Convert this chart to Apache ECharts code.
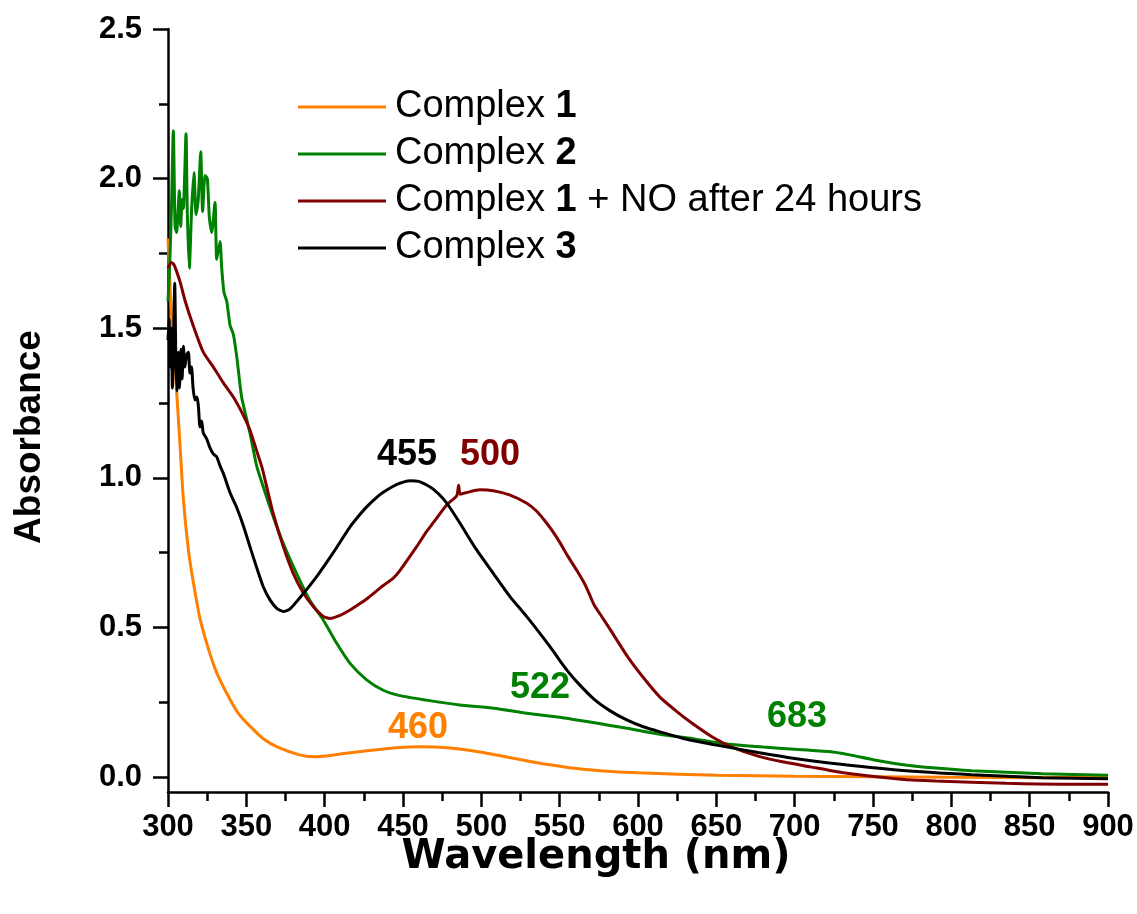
<!DOCTYPE html>
<html>
<head>
<meta charset="utf-8">
<script src="https://cdn.jsdelivr.net/npm/echarts@6/dist/echarts.min.js"></script>
<style>
  html, body { margin: 0; padding: 0; background: #fff; }
  #chart { width: 1137px; height: 914px; }
</style>
</head>
<body>
<div id="chart"></div>
<script>
// wavelength (nm), absorbance
const complex1 = [
  [300, 1.80], [300.7, 1.72], [301.5, 1.62], [302.5, 1.52], [303.5, 1.45], [305.5, 1.29],
  [307.2, 1.15], [309.8, 0.93], [313, 0.76], [316.2, 0.65], [320.4, 0.53], [325.7, 0.43],
  [331, 0.35], [338.5, 0.27], [345, 0.212], [352.3, 0.17], [360.8, 0.128], [370, 0.10],
  [384, 0.074], [393, 0.068], [405, 0.073], [427, 0.088], [448, 0.099], [461, 0.101],
  [480, 0.097], [501, 0.082], [533, 0.05], [555, 0.032], [576, 0.021], [600, 0.014],
  [651, 0.006], [700, 0.003], [750, 0.001], [800, -0.001], [850, -0.002], [900, -0.001]
];

const complex2 = [
  [300, 1.59], [301, 1.70], [302.2, 1.90], [303.4, 2.16], [304.5, 1.84], [305.5, 1.82],
  [306.3, 1.88], [307.2, 1.96], [308.1, 1.84], [309, 1.93], [309.8, 1.90], [311.5, 2.15],
  [312.3, 1.89], [313.6, 1.70], [315.1, 1.90], [316.6, 2.02], [317.9, 1.88], [319.3, 1.93],
  [320.9, 2.09], [322.1, 1.89], [323.6, 2.01], [325.1, 2.00], [326.4, 1.87], [327.9, 1.82],
  [330, 1.92], [331.1, 1.73], [333.2, 1.79], [334.3, 1.70], [335.7, 1.62], [337.5, 1.59],
  [339.6, 1.51], [341.7, 1.48], [344, 1.40], [347, 1.27], [352.3, 1.15], [356.6, 1.04],
  [360.8, 0.97], [367.2, 0.87], [373.6, 0.78], [382.1, 0.68], [390.6, 0.59], [399.1, 0.525],
  [407.7, 0.447], [416.2, 0.38], [426.8, 0.325], [437.4, 0.29], [448, 0.272], [465, 0.257],
  [486, 0.241], [508, 0.23], [529, 0.213], [550, 0.20], [571.5, 0.182], [593, 0.163],
  [614, 0.143], [635, 0.128], [654, 0.112], [680, 0.10], [700, 0.093], [722, 0.085],
  [735, 0.074], [750, 0.058], [767, 0.043], [790, 0.03], [813, 0.021], [858, 0.011], [900, 0.006]
];

const complex1NO = [
  [300, 1.70], [302, 1.72], [303.5, 1.715], [305.5, 1.69], [308, 1.65], [311, 1.59],
  [316, 1.51], [322.5, 1.42], [329, 1.37], [335, 1.32], [341.7, 1.27], [348, 1.21],
  [352.3, 1.16], [356.6, 1.09], [360, 1.035], [363, 0.97], [367.2, 0.88],
  [373.6, 0.77], [380, 0.68], [386.4, 0.615], [392.7, 0.57], [399.1, 0.537], [403.4, 0.53],
  [409.8, 0.54], [416.2, 0.558], [422.6, 0.58], [426.8, 0.595], [437.4, 0.64], [443.8, 0.665],
  [448, 0.69], [458.7, 0.77], [465, 0.82], [469.3, 0.85], [478, 0.91], [484.3, 0.94],
  [485.5, 0.975], [486.5, 0.945], [490, 0.95], [499, 0.96], [507.6, 0.957], [518, 0.943],
  [529, 0.915], [535, 0.89], [540, 0.86], [545, 0.825], [550, 0.785], [555, 0.74],
  [561, 0.69], [566, 0.645], [569.5, 0.605], [572, 0.575], [577, 0.535], [582, 0.495],
  [593, 0.405], [603, 0.335], [614, 0.267], [625, 0.218], [635, 0.178], [648, 0.132],
  [660, 0.10], [676.6, 0.07], [693, 0.05], [710, 0.034], [727, 0.018], [745, 0.005],
  [770, -0.008], [790, -0.013], [835, -0.021], [870, -0.024], [900, -0.024]
];

const complex3 = [
  [300, 1.46], [300.7, 1.53], [301.4, 1.37], [302.1, 1.50], [302.8, 1.30], [303.5, 1.45],
  [304.3, 1.65], [305, 1.40], [305.7, 1.29], [306.5, 1.42], [307.3, 1.30], [308.2, 1.43],
  [309, 1.33], [309.8, 1.44], [310.8, 1.37], [311.8, 1.41], [313, 1.42], [314, 1.35],
  [315, 1.37], [316, 1.30], [317.2, 1.26], [318.5, 1.27], [319.4, 1.24], [320.4, 1.17],
  [321.5, 1.19], [322.5, 1.15], [324.7, 1.13], [326.8, 1.10], [328.9, 1.08], [331.1, 1.07],
  [333.2, 1.04], [335.3, 1.015], [339.6, 0.95], [343.9, 0.90], [348.1, 0.84], [352.3, 0.77],
  [356.6, 0.70], [360.8, 0.636], [365.1, 0.592], [369.4, 0.564], [373.6, 0.553], [377.9, 0.562],
  [384.3, 0.60], [394.9, 0.67], [405.5, 0.75], [416.2, 0.836], [422.6, 0.878], [426.8, 0.903],
  [433.2, 0.935], [437.4, 0.952], [443.8, 0.972], [448, 0.982], [454.5, 0.99], [460, 0.988],
  [465.1, 0.976], [469.3, 0.962], [475.7, 0.93], [480, 0.90], [486.4, 0.848], [497, 0.759],
  [507.6, 0.681], [518.3, 0.603], [529, 0.536], [539.6, 0.465], [546, 0.42], [550, 0.39],
  [555, 0.355], [561, 0.318], [571.5, 0.262], [582, 0.222], [592.8, 0.191], [603.4, 0.168],
  [614, 0.151], [628.9, 0.129], [652, 0.105], [676.6, 0.082], [700, 0.062], [722, 0.047],
  [767, 0.023], [813, 0.008], [858, -0.002], [900, -0.006]
];

// peak labels: [wavelength, absorbance where the label sits, text]
const peaks1 = [[459.6, 0.164, '460']];
const peaks2 = [[537.4, 0.297, '522'], [701.5, 0.2, '683']];
const peaks1NO = [[505.5, 1.076, '500']];
const peaks3 = [[452.6, 1.076, '455']];

const yMajor = [0, 0.5, 1.0, 1.5, 2.0, 2.5];
const yMinor = [0.25, 0.75, 1.25, 1.75, 2.25];

const FONT = 'Liberation Sans, Arial, sans-serif';

const chart = echarts.init(document.getElementById('chart'), null, { renderer: 'canvas' });

function peakMarks(list, color) {
    return {
        symbol: 'circle',
        symbolSize: 1,
        itemStyle: { color: 'rgba(0,0,0,0)' },
        label: {
            show: true,
            position: 'inside',
            formatter: (p) => p.name,
            color: color,
            fontFamily: FONT,
            fontWeight: 'bold',
            fontSize: 36,
        },
        data: list.map((p) => ({ name: p[2], coord: [p[0], p[1]] })),
    };
}

function lineSeries(name, data, color, peaks) {
    return {
        name: name,
        type: 'line',
        data: data,
        symbol: 'none',
        smooth: 0.2,
        color: color,
        lineStyle: { color: color, width: 3 },
        markPoint: peakMarks(peaks, color),
        z: 2,
    };
}

const axisLineStyle = { color: '#000', width: 2.5 };
const tickStyle = { width: 2.5, color: '#000' };
const tickFont = { color: '#000', fontFamily: FONT, fontWeight: 'bold', fontSize: 31 };

const option = {
    animation: false,
    backgroundColor: '#fff',
    grid: { left: 168, right: 29, top: 29, bottom: 122 },
    legend: {
        orient: 'vertical',
        left: 293,
        top: 83,
        icon: 'rect',
        itemWidth: 88,
        itemHeight: 3,
        itemGap: 9,
        textStyle: {
            fontFamily: FONT,
            fontSize: 38,
            color: '#000',
            padding: [0, 0, 0, 4],
            rich: {
                r: { fontFamily: FONT, fontSize: 38, color: '#000' },
                b: { fontFamily: FONT, fontSize: 38, color: '#000', fontWeight: 'bold' },
            },
        },
        formatter: (name) => {
            const m = name.match(/^Complex (\d)(.*)$/);
            if (!m) return name;
            return '{r|Complex }{b|' + m[1] + '}' + (m[2] ? '{r|' + m[2] + '}' : '');
        },
    },
    xAxis: {
        type: 'value',
        min: 300,
        max: 900,
        interval: 50,
        axisLine: { onZero: false, lineStyle: axisLineStyle },
        axisTick: { length: 15, lineStyle: tickStyle },
        minorTick: { show: true, splitNumber: 2, length: 9, lineStyle: tickStyle },
        splitLine: { show: false },
        axisLabel: Object.assign({ margin: 20 }, tickFont),
    },
    yAxis: [
        {
            type: 'value',
            position: 'left',
            min: -0.05,
            max: 2.5,
            axisLine: { show: true, onZero: false, lineStyle: axisLineStyle },
            axisTick: { show: true, customValues: yMajor, length: 15, lineStyle: tickStyle },
            splitLine: { show: false },
            axisLabel: Object.assign({
                customValues: yMajor,
                margin: 26,
                formatter: (v) => v.toFixed(1),
            }, tickFont),
        },
        {
            type: 'value',
            position: 'left',
            offset: 0,
            min: -0.05,
            max: 2.5,
            axisLine: { show: false, onZero: false },
            axisTick: { show: true, customValues: yMinor, length: 9, lineStyle: tickStyle },
            axisLabel: { show: false },
            splitLine: { show: false },
        },
    ],
    graphic: [
        {
            type: 'text',
            x: 596,
            y: 858,
            style: {
                text: 'Wavelength (nm)',
                fill: '#000',
                font: 'bold 40px "DejaVu Sans", sans-serif',
                textAlign: 'center',
                textVerticalAlign: 'middle',
            },
        },
        {
            type: 'text',
            x: 30,
            y: 437,
            rotation: Math.PI / 2,
            style: {
                text: 'Absorbance',
                fill: '#000',
                font: 'bold 37px ' + FONT,
                textAlign: 'center',
                textVerticalAlign: 'middle',
            },
        },
    ],
    series: [
        lineSeries('Complex 1', complex1, '#ff8000', peaks1),
        lineSeries('Complex 2', complex2, '#008000', peaks2),
        lineSeries('Complex 1 + NO after 24 hours', complex1NO, '#800000', peaks1NO),
        lineSeries('Complex 3', complex3, '#000000', peaks3),
    ],
};

chart.setOption(option);

const resizeObserver = new ResizeObserver(() => chart.resize());
resizeObserver.observe(document.getElementById('chart'));
</script>
</body>
</html>
